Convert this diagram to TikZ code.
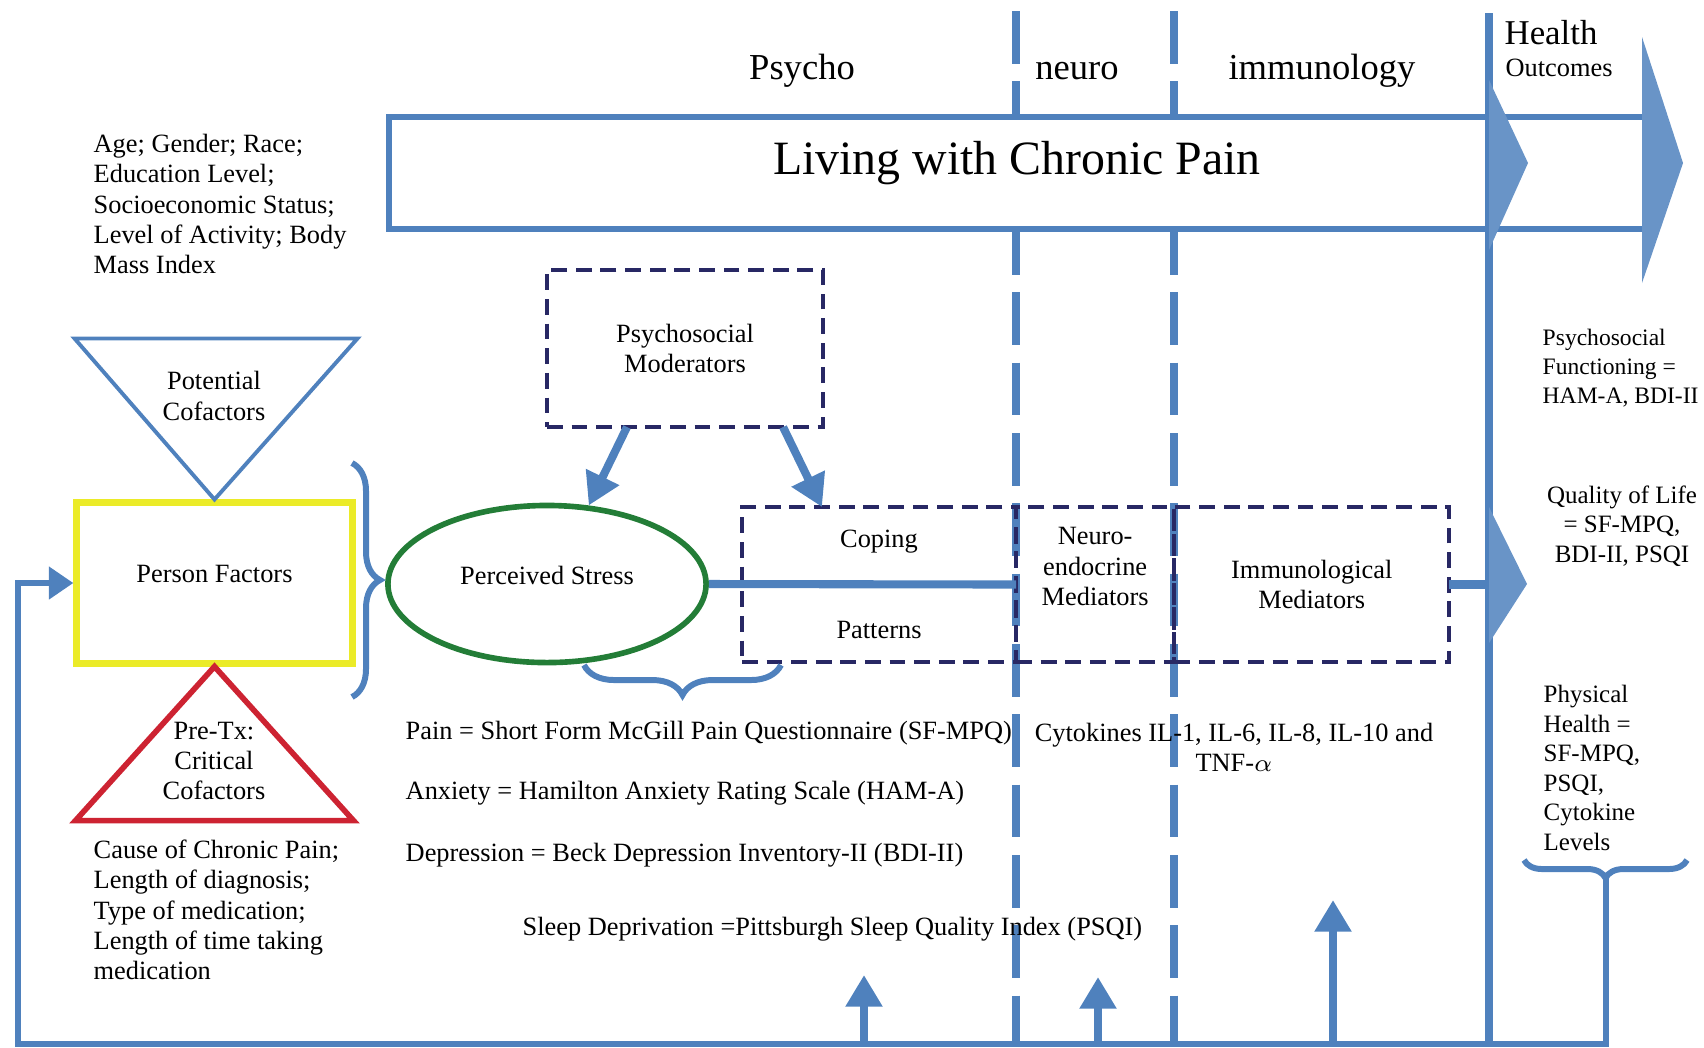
\documentclass[tikz,border=0pt]{standalone}
\usepackage{fontspec}
\setmainfont{Liberation Serif}
\usepackage{tikz}
\usetikzlibrary{shapes.geometric, arrows.meta, positioning, decorations.pathreplacing}
\definecolor{ofblue}{RGB}{79,129,189}
\definecolor{darknavy}{RGB}{40,40,100}
\definecolor{boxyellow}{RGB}{235,235,40}
\definecolor{ellgreen}{RGB}{35,125,55}
\definecolor{trired}{RGB}{205,35,50}
\newcommand{\smalltext}{\fontsize{7.5}{8.6}\selectfont}
\newcommand{\sidetext}{\fontsize{7.1}{8.4}\selectfont}
\tikzstyle{txt} = [font=\smalltext, inner sep=0pt]
\tikzstyle{txtl} = [txt, align=left, anchor=west]
\tikzstyle{txtc} = [txt, align=center]
\tikzstyle{header} = [font=\fontsize{10.4}{12}\selectfont, inner sep=0pt]
\tikzstyle{dashbox} = [rectangle, draw=darknavy, line width=1.2pt, dash pattern=on 4.5pt off 2.5pt, minimum height=1.55cm, outer sep=0pt, inner sep=0pt, font=\smalltext, align=center]
\tikzstyle{divider} = [draw=ofblue, line width=2.3pt, dash pattern=on 15pt off 5pt]
\tikzstyle{solidbar} = [draw=ofblue, line width=2.3pt]
\tikzstyle{chevron} = [fill=ofblue!85!white]
\tikzstyle{arrow} = [ofblue, line width=2.3pt, -{Triangle[width=10pt,length=9pt]}]
\tikzstyle{feedback} = [ofblue, line width=1.7pt]
\tikzstyle{curly} = [ofblue, line width=1.7pt, decorate]

\begin{document}
\begin{tikzpicture}[x=0.01cm, y=-0.01cm]
    \useasboundingbox (0,0) rectangle (1704,1047);
    \draw [divider] (1016,11) -- (1016,1047);
    \draw [divider] (1174,11) -- (1174,1047);
    \filldraw [solidbar, fill=white, line width=1.5pt] (1642,117) -- (389,117) -- (389,229) -- (1642,229);
    \coordinate (vtop) at (1489,13);
    \coordinate (vbottom) at (1489,1047);
    \draw [solidbar] (vtop) -- (vbottom);
    \fill [chevron] (1489,80) -- (1528,163) -- (1489,250) -- cycle;
    \fill [chevron] (1642,37) -- (1683,163) -- (1642,283) -- cycle;
    \fill [chevron] (1489,507) -- (1527,584) -- (1489,643) -- cycle;
    \node (living) [font=\fontsize{13.6}{16}\selectfont] at (1017,163) {Living with Chronic Pain};
    \node (psycho) [header] at (802,71) {Psycho};
    \node (neuro) [header] at (1077,71) {neuro};
    \node (immunology) [header] at (1322,71) {immunology};
    \node (health) [font=\fontsize{9.9}{12}\selectfont, inner sep=0pt] at (1551,33) {Health};
    \node (outcomes) [font=\fontsize{7.5}{9}\selectfont, inner sep=0pt] at (1559,68) {Outcomes};

    \node (demo) [txtl] at (93,204) {Age; Gender; Race;\\Education Level;\\Socioeconomic Status;\\Level of Activity; Body\\Mass Index};
    \node (person) [rectangle, draw=boxyellow, line width=2pt, minimum width=2.75cm, minimum height=1.6cm] at (214.5,583) {};
    \node (persontext) [txt] at ([yshift=0.09cm]person.center) {Person Factors};
    \draw [draw=ofblue, line width=1.1pt] (person.north) -- ++(-140,-161) -- ++(283,0) -- cycle;
    \node (potential) [txtc] at (214,396) {Potential\\Cofactors};
    \draw [draw=trired, line width=1.6pt] (person.south) -- ++(-139,154) -- ++(278,0) -- cycle;
    \node (pretx) [txtc] at (214,761) {Pre-Tx:\\Critical\\Cofactors};
    \node (clinical) [txtl] at (93,910) {Cause of Chronic Pain;\\Length of diagnosis;\\Type of medication;\\Length of time taking\\medication};
    \draw [curly, decoration={brace, amplitude=0.28cm}] (352,463) -- (352,697);

    \node (stress) [ellipse, draw=ellgreen, line width=1.6pt, minimum width=3.18cm, minimum height=1.57cm] at (547,584) {};
    \node (stresstext) [txt] at ([yshift=0.09cm]stress.center) {Perceived Stress};
    \node (moderators) [dashbox, minimum width=2.76cm, minimum height=1.57cm] at (685,348.5) {Psychosocial\\Moderators};
    \node (coping) [dashbox, minimum width=2.74cm] at (879,584.5) {Coping\\[0.6cm]Patterns};
    \node (endocrine) [dashbox, minimum width=1.58cm, right=0pt of coping] {};
    \node (endotext) [txtc] at ([yshift=0.18cm]endocrine.center) {Neuro-\\endocrine\\Mediators};
    \node (immuno) [dashbox, minimum width=2.75cm, right=0pt of endocrine] {Immunological\\Mediators};
    \draw [solidbar] (stress.east) -- (endocrine.west);
    \draw [solidbar] (immuno.east) -- (immuno.east -| vtop);
    \draw [arrow] ([xshift=-0.58cm]moderators.south) -- (stress.62);
    \draw [arrow] ([xshift=0.98cm]moderators.south) -- ([xshift=0.8cm]coping.north west);
    \draw [curly, decoration={brace, amplitude=0.3cm}] (781,665) -- (584,665);

    \node (painm) [txtl] at (405,733) {Pain = Short Form McGill Pain Questionnaire (SF-MPQ)};
    \node (anxm) [txtl, below=0.6cm of painm.west, anchor=west] {Anxiety = Hamilton Anxiety Rating Scale (HAM-A)};
    \node (depm) [txtl, below=0.62cm of anxm.west, anchor=west] {Depression = Beck Depression Inventory-II (BDI-II)};
    \node (sleepm) [txtl] at (522,929) {Sleep Deprivation =Pittsburgh Sleep Quality Index (PSQI)};
    \node (cytokines) [txtc] at (1234,747) {Cytokines IL-1, IL-6, IL-8, IL-10 and\\TNF-$\alpha$};

    \node (psyfun) [txtl, font=\fontsize{6.7}{8.2}\selectfont] at (1542,368) {Psychosocial\\Functioning =\\HAM-A, BDI-II};
    \node (qol) [txtc, font=\sidetext] at (1622,526) {Quality of Life\\= SF-MPQ,\\BDI-II, PSQI};
    \node (phys) [txtl, font=\sidetext] at (1543,768) {Physical\\Health =\\SF-MPQ,\\PSQI,\\Cytokine\\Levels};
    \draw [curly, decoration={brace, amplitude=0.18cm}] (1687,860) -- (1524,860);

    \coordinate (hbtip) at (1605.5,878);
    \coordinate (loopcorner) at (18,1044);
    \draw [feedback, -{Triangle[width=9pt,length=7pt]}] (hbtip) |- (loopcorner) |- (person.west);
    \coordinate (up1) at (864,975);
    \coordinate (up2) at (1098,977);
    \coordinate (up3) at (1333,900);
    \draw [arrow] (up1 |- loopcorner) -- (up1);
    \draw [arrow] (up2 |- loopcorner) -- (up2);
    \draw [arrow] (up3 |- loopcorner) -- (up3);
\end{tikzpicture}
\end{document}
